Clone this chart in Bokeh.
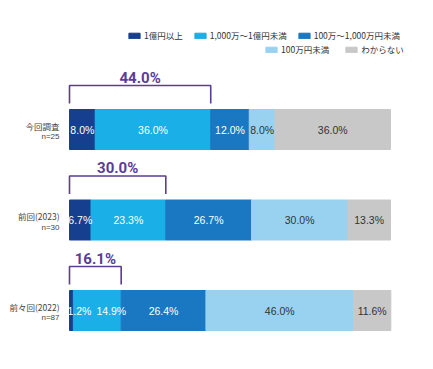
from bokeh.plotting import figure
from bokeh.models import Range1d, ColumnDataSource, Legend, LegendItem
from bokeh.core.properties import value
from bokeh.embed import file_html
from bokeh.resources import INLINE

# ---- data ----
rows = ["今回調査", "前回(2023)", "前々回(2022)"]
ns = ["n=25", "n=30", "n=87"]
categories = ["1億円以上", "1,000万～1億円未満", "100万～1,000万円未満", "100万円未満", "わからない"]
v_over100m = [8.0, 6.7, 1.2]
v_10m_100m = [36.0, 23.3, 14.9]
v_1m_10m = [12.0, 26.7, 26.4]
v_under1m = [8.0, 30.0, 46.0]
v_unknown = [36.0, 13.3, 11.6]
bracket_labels = ["44.0%", "30.0%", "16.1%"]

# ---- styles ----
colors = ["#173f8f", "#1aafe6", "#1a78c2", "#99d2f0", "#c8c8c8"]
label_colors = ["white", "white", "white", "#333333", "#333333"]
purple = "#5b3c98"
W, H = 417, 353
PX_X = 3.21          # px per percent
LEFT = 69            # px of 0% from figure left
PX_Y = 90.5          # px per row
TOP = 129            # px of first row center from figure top
BAR_H = 40           # px
# extra label offsets (px) for crowded small segments: (row, segment) -> offset
label_shift = {(2, 0): 8, (2, 1): 14}

series = [v_over100m, v_10m_100m, v_1m_10m, v_under1m, v_unknown]
keys = ["s%d" % i for i in range(5)]
row_idx = list(range(len(rows)))

src = ColumnDataSource(dict(y=row_idx, **{k: s for k, s in zip(keys, series)}))

p = figure(width=W, height=H, output_backend="svg", toolbar_location=None,
           x_range=Range1d(-LEFT / PX_X, (W - LEFT) / PX_X),
           y_range=Range1d((H - TOP) / PX_Y, -TOP / PX_Y),
           x_axis_type=None, y_axis_type=None, min_border=0)
p.grid.visible = False
p.outline_line_color = None
p.background_fill_color = "white"

rs = p.hbar_stack(keys, y="y", height=BAR_H / PX_Y, color=colors, source=src)

# segment labels
lab_font = value("Liberation Sans")
for si, s in enumerate(series):
    xs, ys, ts, offs = [], [], [], []
    for r in row_idx:
        left = sum(series[k][r] for k in range(si))
        xs.append(left + s[r] / 2)
        ys.append(r)
        ts.append("%.1f%%" % s[r])
        offs.append(label_shift.get((r, si), 0))
    p.text(x=xs, y=ys, text=ts, x_offset=offs, text_align="center", text_baseline="middle",
           text_font=lab_font, text_font_size="10.5px", text_color=label_colors[si])

# category labels
cjk = value("Noto Sans CJK JP")
p.text(x=[0] * 3, y=row_idx, text=rows, x_offset=-10, y_offset=-4, text_align="right",
       text_baseline="middle", text_font=cjk, text_font_size="8.5px", text_color="#444444")
p.text(x=[0] * 3, y=row_idx, text=ns, x_offset=-10, y_offset=7, text_align="right",
       text_baseline="middle", text_font=lab_font, text_font_size="8px", text_color="#444444")

# brackets
bx, by, cx = [], [], []
for r in row_idx:
    s = series[0][r] + series[1][r]
    top = r - 44 / PX_Y
    bot = r - 26 / PX_Y
    bx.append([0, 0, s, s])
    by.append([bot, top, top, bot])
    cx.append(s / 2)
p.multi_line(xs=bx, ys=by, line_color=purple, line_width=1.6)
p.text(x=cx, y=row_idx, text=bracket_labels, y_offset=-52, text_align="center",
       text_baseline="middle", text_font=value("Roboto"),
       text_font_style="bold", text_font_size="15px", text_color=purple)

# legends
def make_legend(idx, loc, spacing):
    leg = Legend(items=[LegendItem(label=categories[i], renderers=[rs[i]]) for i in idx],
                 orientation="horizontal", location=loc, glyph_width=14, glyph_height=7,
                 label_standoff=3, spacing=spacing, padding=0, margin=0,
                 border_line_color=None, background_fill_alpha=0,
                 label_text_font="Noto Sans CJK JP", label_text_font_size="8.5px",
                 label_text_color="#333333", label_height=9, label_width=1)
    p.add_layout(leg)

make_legend([0, 1, 2], (127, H - 41), 10)
make_legend([3, 4], (264, H - 55), 15)

open("out.html", "w").write(file_html(p, INLINE))
